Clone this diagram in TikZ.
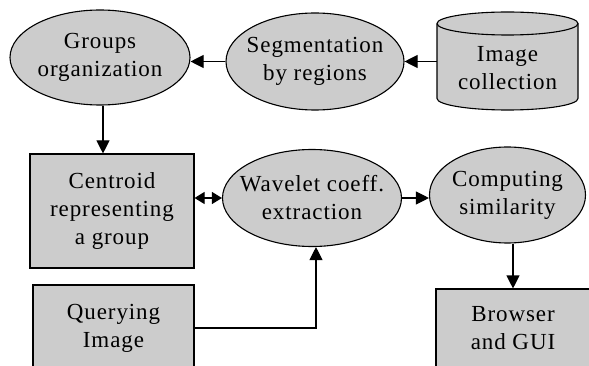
\documentclass[tikz,border=0pt]{standalone}
\usepackage{fontspec}
\setmainfont[LetterSpace=4]{Liberation Serif}
\usetikzlibrary{shapes.geometric,arrows.meta}
\definecolor{boxgray}{RGB}{204,204,204}
\begin{document}
\begin{tikzpicture}[x=1pt,y=-1pt,
  lbl/.style={align=center,font=\fontsize{23}{28}\selectfont,text=black},
  ell/.style={ellipse,draw,line width=1.1pt,fill=boxgray,inner xsep=-30pt,inner ysep=0pt,lbl},
  boxn/.style={rectangle,draw,line width=1.1pt,fill=boxgray,inner sep=0pt,lbl},
  conn/.style={line width=1.1pt,-{Triangle[length=13pt,width=13pt]}},
  dbl/.style={line width=1.1pt,{Triangle[length=10pt,width=12pt]}-{Triangle[length=10pt,width=12pt]}}]
\useasboundingbox (0,0) rectangle (589,366);
\clip (0,0) rectangle (589,366);
\fill[white] (0,0) rectangle (589,366);
% cylinder
\draw[line width=1.1pt,fill=boxgray]
  (437,23.5) -- (437,98.5) arc[start angle=180,end angle=360,x radius=70.5pt,y radius=11.5pt]
  -- (578,23.5) arc[start angle=0,end angle=180,x radius=70.5pt,y radius=11.5pt] -- cycle;
\draw[line width=1.1pt] (437,23.5) arc[start angle=180,end angle=360,x radius=70.5pt,y radius=11.5pt];
\node[lbl,minimum width=141pt,minimum height=60pt,inner sep=0pt] (coll) at (507.5,68) {Image\\collection};
% nodes
\node[ell,minimum width=180pt,minimum height=95pt] (groups) at (100,57.5) {Groups\\organization};
\node[ell,minimum width=178pt,minimum height=97pt] (seg) at (315,61.5) {Segmentation\\by regions};
\node[boxn,minimum width=164pt,minimum height=114pt] (centroid) at (112,211) {Centroid\\representing\\a group};
\node[boxn,minimum width=161pt,minimum height=86pt] (query) at (113.5,328) {Querying\\Image};
\node[ell,minimum width=179pt,minimum height=97pt] (wave) at (312,198) {Wavelet coeff.\\extraction};
\node[ell,minimum width=156pt,minimum height=96pt] (comp) at (507.5,195) {Computing\\similarity};
\node[boxn,minimum width=154pt,minimum height=78pt] (browser) at (513,328) {Browser\\and GUI};
% connectors
\draw[conn] (coll.west |- seg.east) -- (seg.east);
\draw[conn] (seg.west) -- (groups.east |- seg.west);
\draw[conn] ([xshift=3pt]groups.south) -- ([xshift=3pt]groups.south |- centroid.north);
\draw[dbl] (wave.west -| centroid.east) -- (wave.west);
\draw[conn] (wave.east) -- (wave.east -| comp.west);
\draw[conn] (comp.south -| browser.north) -- (browser.north);
\draw[conn] (query.east) -| ([xshift=4pt]wave.south);
\end{tikzpicture}
\end{document}
